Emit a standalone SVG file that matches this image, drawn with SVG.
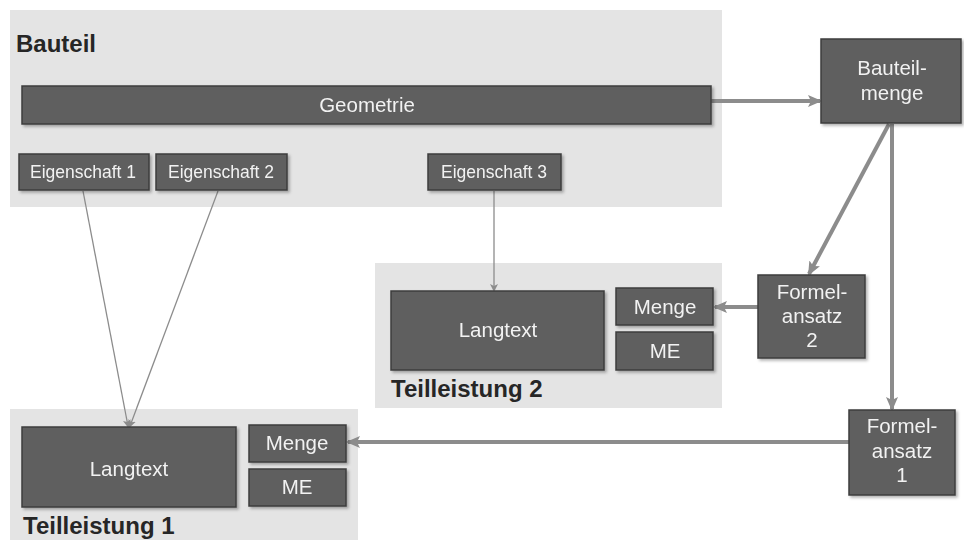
<svg xmlns="http://www.w3.org/2000/svg" width="964" height="540" viewBox="0 0 964 540">
<style>
.cont{fill:#e4e4e4}
.node{fill:#5e5e5e;stroke:#3c3c3c;stroke-width:1.5}
.t{font-family:"Liberation Sans",Arial,sans-serif;fill:#f2f2f2;text-anchor:middle;font-size:20.5px}
.e{font-size:17.5px}
.lbl{font-family:"Liberation Sans",Arial,sans-serif;font-weight:bold;fill:#262626;font-size:24px}
.thick{stroke:#8c8c8c;stroke-width:4;fill:none}
.thin{stroke:#8c8c8c;stroke-width:1.3;fill:none}
</style>
<defs>
<marker id="ah" markerWidth="8" markerHeight="8" refX="6" refY="4" orient="auto" markerUnits="userSpaceOnUse" viewBox="0 0 8 8">
<path d="M0,0 L8,4 L0,8 L2,4 Z" fill="#8c8c8c"/>
</marker>
<marker id="ahb" markerWidth="14" markerHeight="14" refX="12" refY="7" orient="auto" markerUnits="userSpaceOnUse" viewBox="0 0 14 14">
<path d="M0,1 L14,7 L0,13 L3,7 Z" fill="#8c8c8c"/>
</marker>
<filter id="sh" x="-10%" y="-10%" width="130%" height="140%">
<feDropShadow dx="2" dy="2" stdDeviation="1.5" flood-color="#000" flood-opacity="0.3"/>
</filter>
</defs>

<g id="bauteil">
<rect class="cont" x="10" y="10" width="712" height="197"/>
<text class="lbl" x="16" y="52">Bauteil</text>
</g>
<g id="teilleistung2">
<rect class="cont" x="375" y="263" width="347" height="145"/>
<text class="lbl" x="391" y="397">Teilleistung 2</text>
</g>
<g id="teilleistung1">
<rect class="cont" x="10" y="409" width="348" height="131"/>
<text class="lbl" x="23" y="534">Teilleistung 1</text>
</g>

<g id="connectors">
<line class="thick" x1="711" y1="101" x2="820" y2="101" marker-end="url(#ahb)"/>
<line class="thick" x1="889" y1="124" x2="809" y2="274" marker-end="url(#ahb)"/>
<line class="thick" x1="892" y1="124" x2="892" y2="409" marker-end="url(#ahb)"/>
<line class="thick" x1="758" y1="307" x2="715" y2="307" marker-end="url(#ahb)"/>
<line class="thick" x1="849" y1="442" x2="348" y2="442" marker-end="url(#ahb)"/>
<line class="thin" x1="83" y1="191" x2="128" y2="426" marker-end="url(#ah)"/>
<line class="thin" x1="218" y1="191" x2="130" y2="426" marker-end="url(#ah)"/>
<line class="thin" x1="494" y1="191" x2="494" y2="290" marker-end="url(#ah)"/>
</g>

<g id="geometrie" filter="url(#sh)">
<rect class="node" x="22" y="86" width="689" height="38"/>
<text class="t" x="367" y="112">Geometrie</text>
</g>
<g id="eigenschaft1" filter="url(#sh)">
<rect class="node" x="19" y="154" width="130" height="36"/>
<text class="t e" x="83" y="178">Eigenschaft 1</text>
</g>
<g id="eigenschaft2" filter="url(#sh)">
<rect class="node" x="156" y="154" width="131" height="36"/>
<text class="t e" x="221" y="178">Eigenschaft 2</text>
</g>
<g id="eigenschaft3" filter="url(#sh)">
<rect class="node" x="428" y="154" width="133" height="36"/>
<text class="t e" x="494" y="178">Eigenschaft 3</text>
</g>
<g id="bauteilmenge" filter="url(#sh)">
<rect class="node" x="821" y="39" width="140" height="84"/>
<text class="t" x="892" y="75">Bauteil-</text>
<text class="t" x="892" y="100">menge</text>
</g>
<g id="langtext2" filter="url(#sh)">
<rect class="node" x="391" y="291" width="213" height="79"/>
<text class="t" x="498" y="337">Langtext</text>
</g>
<g id="menge2" filter="url(#sh)">
<rect class="node" x="616" y="288" width="97" height="37"/>
<text class="t" x="665" y="314">Menge</text>
</g>
<g id="me2" filter="url(#sh)">
<rect class="node" x="616" y="332" width="97" height="38"/>
<text class="t" x="665" y="358">ME</text>
</g>
<g id="formelansatz2" filter="url(#sh)">
<rect class="node" x="758" y="275" width="107" height="83"/>
<text class="t" x="812" y="299">Formel-</text>
<text class="t" x="812" y="323">ansatz</text>
<text class="t" x="812" y="347">2</text>
</g>
<g id="formelansatz1" filter="url(#sh)">
<rect class="node" x="849" y="410" width="106" height="85"/>
<text class="t" x="902" y="433">Formel-</text>
<text class="t" x="902" y="458">ansatz</text>
<text class="t" x="902" y="482">1</text>
</g>
<g id="langtext1" filter="url(#sh)">
<rect class="node" x="22" y="427" width="214" height="80"/>
<text class="t" x="129" y="476">Langtext</text>
</g>
<g id="menge1" filter="url(#sh)">
<rect class="node" x="249" y="425" width="97" height="37"/>
<text class="t" x="297" y="450">Menge</text>
</g>
<g id="me1" filter="url(#sh)">
<rect class="node" x="249" y="469" width="97" height="37"/>
<text class="t" x="297" y="494">ME</text>
</g>
</svg>
